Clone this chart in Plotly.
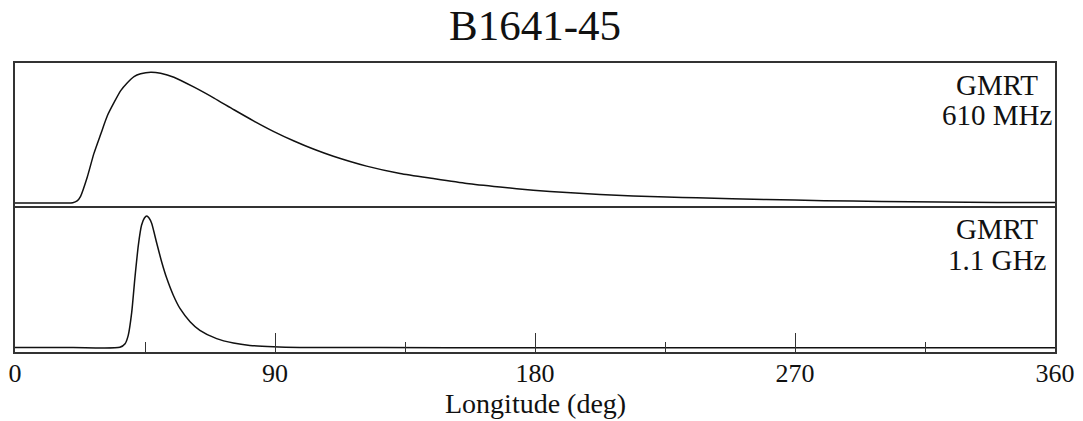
import plotly.graph_objects as go

# Top panel: GMRT 610 MHz profile (longitude deg, normalized intensity)
lon_610 = [0, 10, 20, 21.5, 22.7, 25.0, 27.3, 29.7, 32.0, 34.3, 36.6, 38.9, 41.2, 43.5, 47.0,
           50.4, 55.0, 62.0, 68.9, 75.8, 82.7, 89.6, 96.6, 103.5, 110.2, 121.7, 133.3, 144.8,
           156.4, 167.9, 179.4, 191.0, 202.5, 214.0, 225.6, 236.0, 260, 280, 300, 320, 340, 360]
int_610 = [0.005, 0.004, 0.007, 0.02, 0.055, 0.20, 0.38, 0.53, 0.67, 0.77, 0.86, 0.92, 0.967, 0.988, 1.0,
           0.992, 0.962, 0.886, 0.803, 0.714, 0.628, 0.548, 0.476, 0.413, 0.36, 0.285, 0.229, 0.19,
           0.153, 0.126, 0.102, 0.084, 0.069, 0.058, 0.05, 0.044, 0.031, 0.022, 0.016, 0.012, 0.009, 0.008]

# Bottom panel: GMRT 1.1 GHz profile
lon_1100 = [0, 20, 36.3, 38.1, 39.2, 40.4, 41.5, 42.7, 43.8, 44.8, 45.6, 46.4, 47.3, 49.0, 50.8,
            52.5, 54.8, 57.1, 60.6, 64.0, 69.8, 75.6, 81.3, 89.4, 98.6, 150, 250, 360]
int_1100 = [0.004, 0.004, 0.006, 0.033, 0.096, 0.27, 0.53, 0.78, 0.93, 0.985, 1.0, 0.985, 0.945, 0.80, 0.65,
            0.53, 0.40, 0.30, 0.20, 0.134, 0.071, 0.038, 0.02, 0.01, 0.005, 0.003, 0.002, 0.002]

title_text = "B1641-45"
x_title = "Longitude (deg)"
labels_top = ["GMRT", "610 MHz"]
labels_bot = ["GMRT", "1.1 GHz"]
x_ticks = [0, 90, 180, 270, 360]

SERIF = "Liberation Serif, Times New Roman, serif"
FRAME = "#333333"

fig = go.Figure()
fig.add_trace(go.Scatter(x=lon_610, y=int_610, mode="lines", xaxis="x2", yaxis="y2",
                         line=dict(color="#111111", width=1.5, shape="spline", smoothing=0.6),
                         showlegend=False, hoverinfo="skip"))
fig.add_trace(go.Scatter(x=lon_1100, y=int_1100, mode="lines", xaxis="x", yaxis="y",
                         line=dict(color="#111111", width=1.5, shape="spline", smoothing=0.6),
                         showlegend=False, hoverinfo="skip"))

fig.update_layout(
    width=1083, height=421,
    margin=dict(l=15, r=28, t=63, b=69, autoexpand=False),
    paper_bgcolor="white", plot_bgcolor="white",
    font=dict(family=SERIF, color="#111111", size=26),
    xaxis=dict(domain=[0, 1], range=[0, 360], anchor="y", automargin=False,
               tickvals=x_ticks, ticks="inside", ticklen=19, tickwidth=1.2, tickcolor=FRAME,
               minor=dict(dtick=45, tick0=0, ticks="inside", ticklen=10, tickwidth=1.2, tickcolor=FRAME),
               showline=True, linewidth=2, linecolor=FRAME, mirror=True,
               showgrid=False, zeroline=False, ticklabelstandoff=-3,
               tickfont=dict(family=SERIF, size=26, color="#111111")),
    yaxis=dict(domain=[0, 0.5], range=[-0.03, 1.065], showticklabels=False, ticks="", automargin=False,
               showline=True, linewidth=2, linecolor=FRAME, mirror=True,
               showgrid=False, zeroline=False),
    xaxis2=dict(domain=[0, 1], range=[0, 360], anchor="y2", side="top", automargin=False,
                showticklabels=False, ticks="",
                showline=True, linewidth=2, linecolor=FRAME, mirror=False,
                showgrid=False, zeroline=False),
    yaxis2=dict(domain=[0.5, 1], range=[-0.03, 1.07], showticklabels=False, ticks="", automargin=False,
                showline=True, linewidth=2, linecolor=FRAME, mirror=True,
                showgrid=False, zeroline=False),
)

fig.add_annotation(text=title_text, xref="paper", yref="paper", x=0.5, y=1.13,
                   xanchor="center", yanchor="middle", showarrow=False,
                   font=dict(family=SERIF, size=43, color="#111111"))

fig.add_annotation(text=x_title, xref="paper", yref="paper", x=0.5, y=-0.178,
                   xanchor="center", yanchor="middle", showarrow=False,
                   font=dict(family=SERIF, size=28, color="#111111"))

for txt, yp in zip(labels_top, [0.925, 0.821]):
    fig.add_annotation(text=txt, xref="paper", yref="paper", x=0.944, y=yp,
                       xanchor="center", yanchor="middle", showarrow=False,
                       font=dict(family=SERIF, size=29, color="#111111"))
for txt, yp in zip(labels_bot, [0.426, 0.318]):
    fig.add_annotation(text=txt, xref="paper", yref="paper", x=0.944, y=yp,
                       xanchor="center", yanchor="middle", showarrow=False,
                       font=dict(family=SERIF, size=29, color="#111111"))

fig.write_html("out.html", config={"displayModeBar": False},
               post_script="document.body.style.margin='0px';document.body.style.overflow='hidden';")
